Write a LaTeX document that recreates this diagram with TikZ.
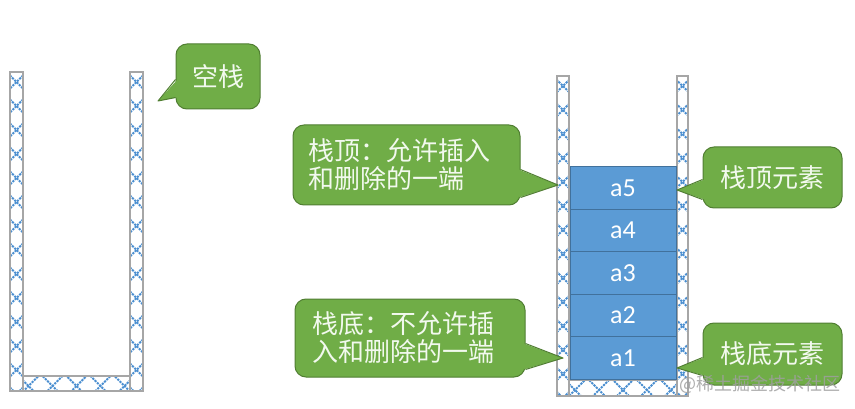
\documentclass[tikz,border=0pt]{standalone}
\usepackage{fontspec}
\setmainfont{Noto Sans CJK SC}
\newfontfamily\latinfont{Carlito}
\usetikzlibrary{calc}
\definecolor{cgreen}{HTML}{70AD47}
\definecolor{cgreenb}{HTML}{507E32}
\definecolor{ctext}{HTML}{F2F9EE}
\definecolor{cblue}{HTML}{5B9BD5}
\definecolor{cblueb}{HTML}{41719C}
\definecolor{cwall}{HTML}{A6A6A6}
\definecolor{chatch}{HTML}{4A8ED0}
\newcommand\hatchwall[4]{%
 \begin{scope}
 \clip (#1,#2) rectangle (#3,#4);
 \pgfmathsetmacro\hcx{(#1+#3)/2}
 \foreach \k in {0,...,22}{
   \draw[hatchline] (\hcx-70,#2+10-96+24*\k-70) -- (\hcx+70,#2+10-96+24*\k+70);
   \draw[hatchline] (\hcx+70,#2+10-96+24*\k-70) -- (\hcx-70,#2+10-96+24*\k+70);
 }
 \end{scope}
 \draw[wallline] (#1,#2) rectangle (#3,#4);
}
\begin{document}
\begin{tikzpicture}[x=1pt,y=-1pt,
  wallline/.style={draw=cwall, line width=1.1pt},
  hatchline/.style={draw=chatch, line width=1.9pt, dash pattern=on 2.2pt off 1pt},
  callout/.style={fill=cgreen, draw=cgreenb, line width=1pt, rounded corners=11pt, text=ctext, font=\fontsize{26}{28}\selectfont, inner sep=0pt},
  ptrfill/.style={fill=cgreen},
  ptredge/.style={draw=cgreenb, line width=1pt, line join=round},
  elem/.style={fill=cblue, draw=cblueb, line width=1pt, minimum width=106pt, minimum height=42.4pt, inner sep=0pt, text=white, font=\latinfont\fontsize{26}{28}\selectfont},
]
\useasboundingbox (0,0) rectangle (855,409);

% left (empty) stack
\hatchwall{10}{72}{23}{391}
\hatchwall{130}{72}{143}{391}
\hatchwall{23}{376}{130}{391}

% right stack
\hatchwall{557}{76}{569}{396}
\hatchwall{677}{76}{688}{396}
\hatchwall{569}{380}{677}{396}

\node[elem] (a5) at (623,188.2) {a5};
\node[elem] (a4) at (623,230.6) {a4};
\node[elem] (a3) at (623,273.0) {a3};
\node[elem] (a2) at (623,315.4) {a2};
\node[elem] (a1) at (623,357.8) {a1};

% callout: empty stack
\node[callout, minimum width=84pt, minimum height=65pt] (c1) at (218,76.5) {空栈};
\coordinate (t1) at (158,101);
\fill[ptrfill] ($(c1.north west)+(2,36)$) -- (t1) -- ($(c1.north west)+(2,54)$) -- cycle;
\draw[ptredge] ($(c1.north west)+(0,36)$) -- (t1) -- ($(c1.north west)+(0,54)$);

% callout: top of stack
\node[callout, minimum width=227pt, minimum height=80pt, text width=197pt, align=left, inner xsep=15pt] (c2) at (406.5,165) {栈顶：允许插入\\和删除的一端};
\coordinate (t2) at (558,185);
\fill[ptrfill] ($(c2.north east)+(-2,45)$) -- (t2) -- ($(c2.north east)+(-2,73)$) -- cycle;
\draw[ptredge] ($(c2.north east)+(0,45)$) -- (t2) -- ($(c2.north east)+(0,73)$);

% callout: top element
\node[callout, minimum width=139pt, minimum height=61pt] (c3) at (772.5,177.5) {栈顶元素};
\coordinate (t3) at (677,190);
\fill[ptrfill] ($(c3.north west)+(2,33)$) -- (t3) -- ($(c3.north west)+(2,53)$) -- cycle;
\draw[ptredge] ($(c3.north west)+(0,33)$) -- (t3) -- ($(c3.north west)+(0,53)$);

% callout: bottom of stack
\node[callout, minimum width=230pt, minimum height=78pt, text width=196pt, align=left, inner xsep=17pt] (c4) at (410,338) {栈底：不允许插\\入和删除的一端};
\coordinate (t4) at (563,358);
\fill[ptrfill] ($(c4.north east)+(-2,45)$) -- (t4) -- ($(c4.north east)+(-2,71)$) -- cycle;
\draw[ptredge] ($(c4.north east)+(0,45)$) -- (t4) -- ($(c4.north east)+(0,71)$);

% callout: bottom element
\node[callout, minimum width=139pt, minimum height=62pt] (c5) at (772.5,354) {栈底元素};
\coordinate (t5) at (677,368);
\fill[ptrfill] ($(c5.north west)+(2,35)$) -- (t5) -- ($(c5.north west)+(2,53)$) -- cycle;
\draw[ptredge] ($(c5.north west)+(0,35)$) -- (t5) -- ($(c5.north west)+(0,53)$);

% watermark
\node[text=gray!75, opacity=0.85, font=\fontsize{18}{20}\selectfont, inner sep=0pt] (wm) at (760,384) {@稀土掘金技术社区};
\end{tikzpicture}
\end{document}
